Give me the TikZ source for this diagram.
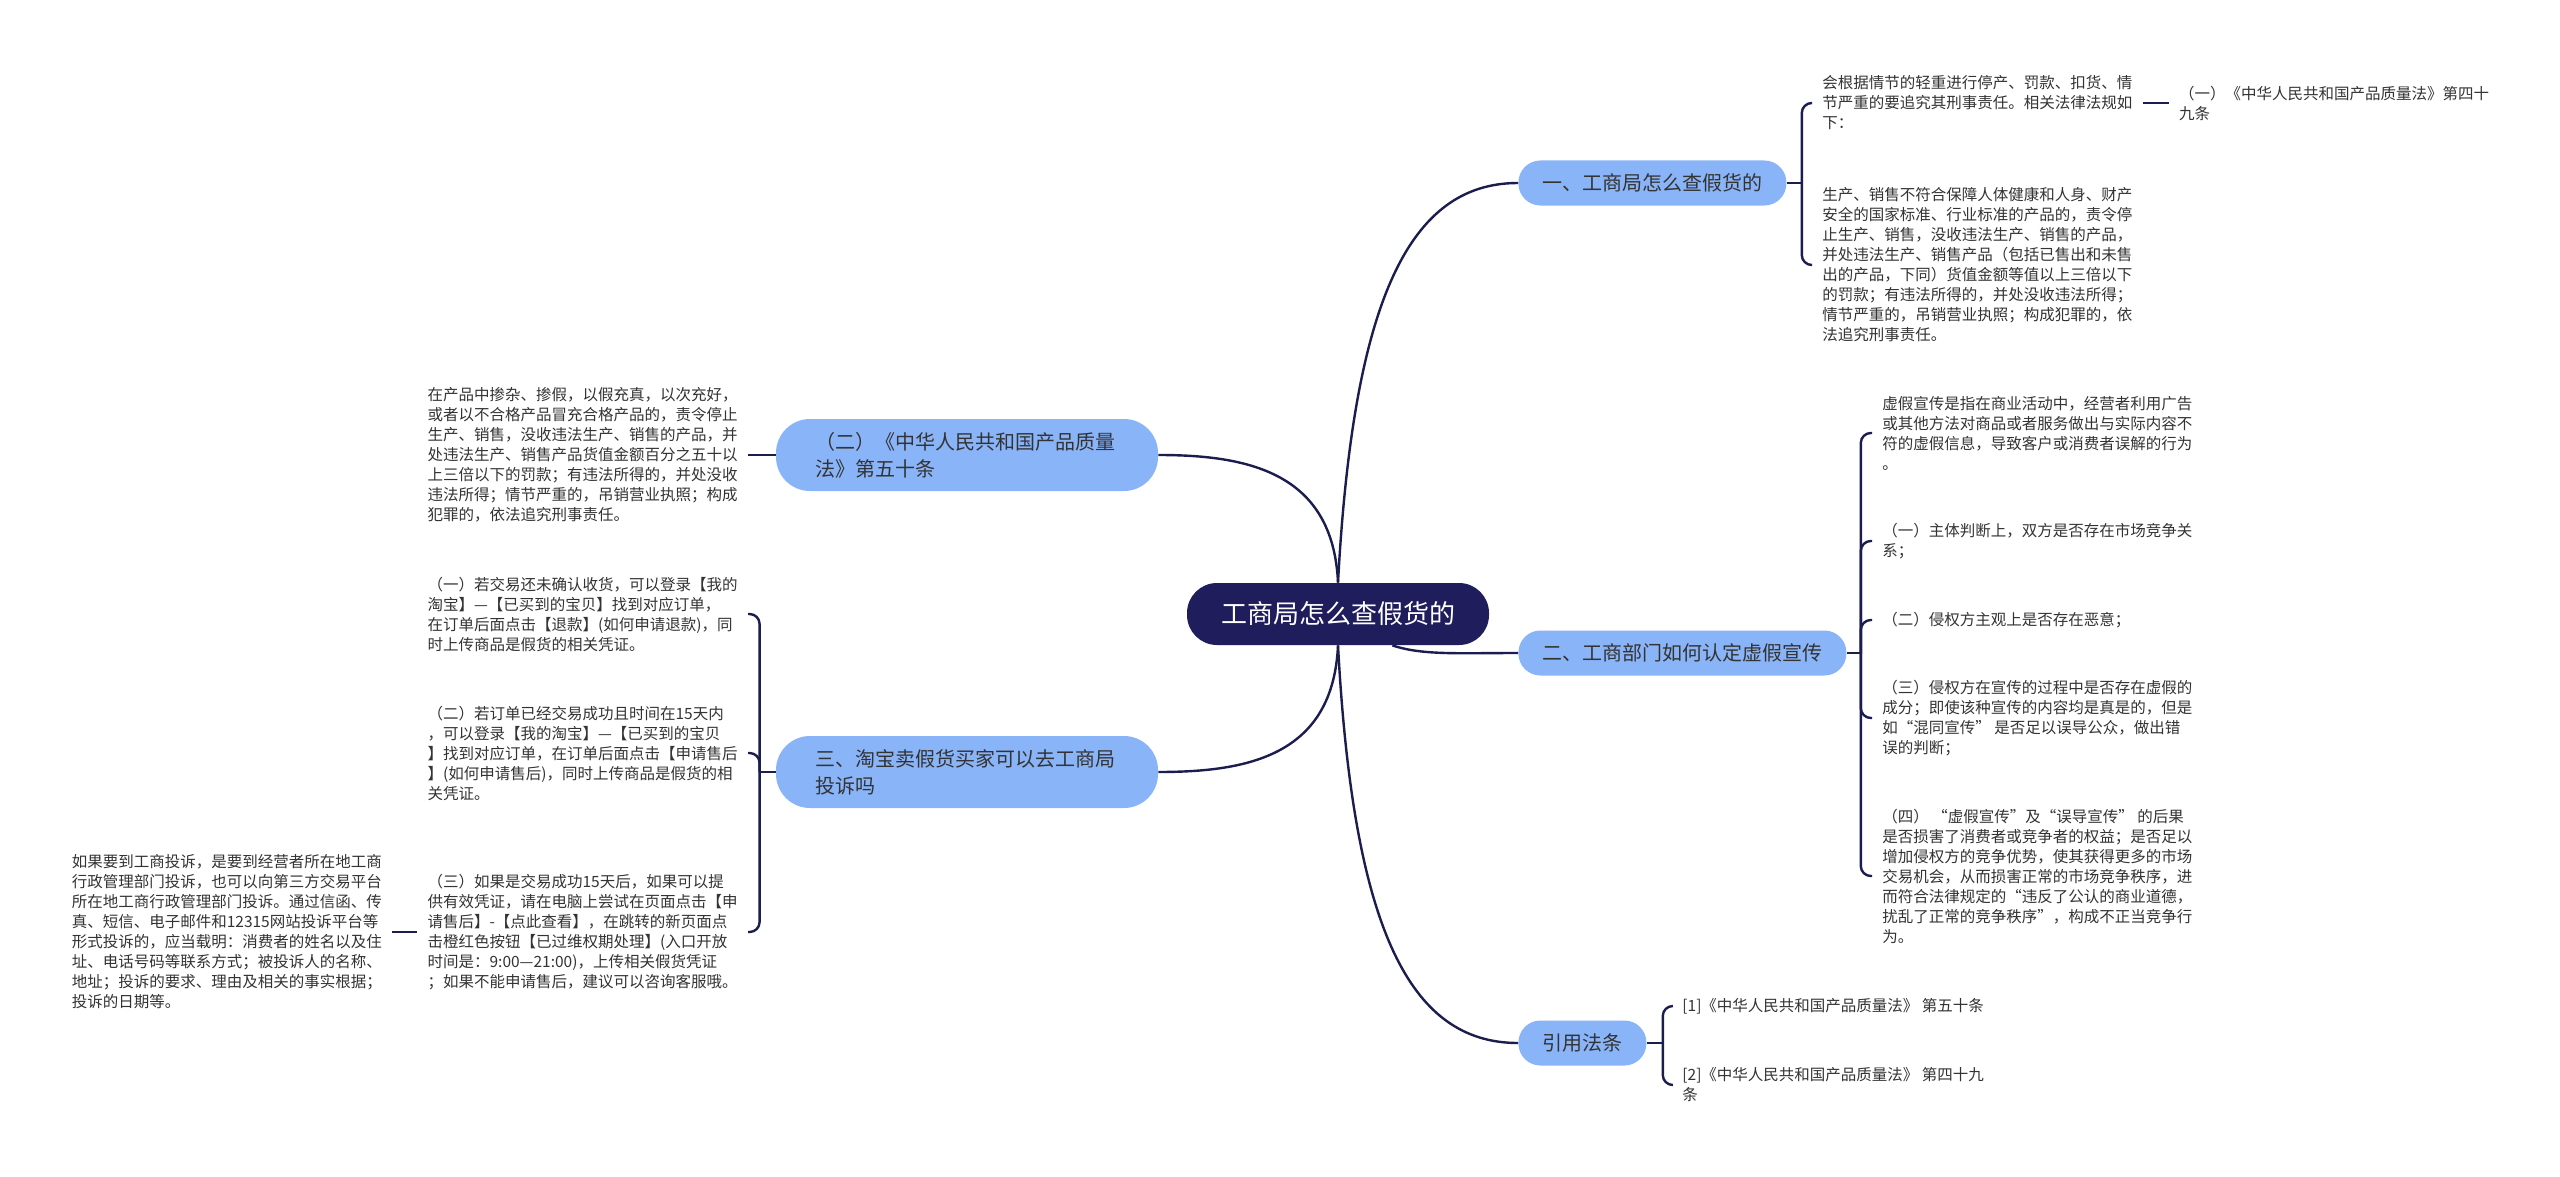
\documentclass[tikz,border=0pt]{standalone}
\usepackage{fontspec}
\setmainfont{Noto Sans CJK SC}
\usepackage{xcolor}
\usepackage{tikz}
\usetikzlibrary{positioning,calc}

\definecolor{navy}{HTML}{1F1D5B}
\definecolor{linenavy}{HTML}{1A1D4E}
\definecolor{skyblue}{HTML}{8AB4F8}
\definecolor{txtgray}{HTML}{333333}

\begin{document}
\begin{tikzpicture}[
  x=0.5pt, y=-0.5pt,
  topic/.style={fill=navy, text=white, rounded corners=15pt, minimum height=31pt, inner xsep=17pt, font=\fontsize{13pt}{16pt}\selectfont},
  branch/.style={fill=skyblue, text=txtgray, rounded corners=11pt, minimum height=22.5pt, inner xsep=12pt, font=\fontsize{10pt}{13.5pt}\selectfont},
  wbranch/.style={branch, rounded corners=17pt, minimum height=36pt, text width=152pt, inner xsep=19.5pt, align=left},
  leaf/.style={align=left, text=txtgray, inner xsep=5pt, inner ysep=0pt, font=\fontsize{7.75pt}{10pt}\selectfont},
  link/.style={draw=linenavy, line width=1.2pt},
  brace/.style={link, rounded corners=5pt}
]
\path[use as bounding box, fill=white] (0,0) rectangle (2560,1177);

% centre and main topics
\node[topic] (root) at (1338,614) {工商局怎么查假货的};
\node[branch, anchor=west] (check) at (1518,183) {一、工商局怎么查假货的};
\node[branch, anchor=west] (ident) at (1518,653) {二、工商部门如何认定虚假宣传};
\node[branch, anchor=west] (cite) at (1518,1043) {引用法条};
\node[wbranch] (law50) at (967,455) {（二）《中华人民共和国产品质量\\法》第五十条};
\node[wbranch] (taobao) at (967,772) {三、淘宝卖假货买家可以去工商局\\投诉吗};

% right side
\node[leaf, anchor=west] (rule) at (1812,103)
  {会根据情节的轻重进行停产、罚款、扣货、情\\节严重的要追究其刑事责任。相关法律法规如\\下：};
\node[leaf, right=13pt of rule] (art49) {（一）《中华人民共和国产品质量法》第四十\\九条};
\node[leaf, anchor=west] (prod) at (1812,265)
  {生产、销售不符合保障人体健康和人身、财产\\安全的国家标准、行业标准的产品的，责令停\\止生产、销售，没收违法生产、销售的产品，\\并处违法生产、销售产品（包括已售出和未售\\出的产品，下同）货值金额等值以上三倍以下\\的罚款；有违法所得的，并处没收违法所得；\\情节严重的，吊销营业执照；构成犯罪的，依\\法追究刑事责任。};

\node[leaf, anchor=west] (def) at (1872,433)
  {虚假宣传是指在商业活动中，经营者利用广告\\或其他方法对商品或者服务做出与实际内容不\\符的虚假信息，导致客户或消费者误解的行为\\。};
\node[leaf, anchor=west] (subj) at (1872,541) {（一）主体判断上，双方是否存在市场竞争关\\系；};
\node[leaf, anchor=west] (mal) at (1872,620) {（二）侵权方主观上是否存在恶意；};
\node[leaf, anchor=west] (fals) at (1872,718)
  {（三）侵权方在宣传的过程中是否存在虚假的\\成分；即使该种宣传的内容均是真是的，但是\\如“混同宣传” 是否足以误导公众，做出错\\误的判断；};
\node[leaf, anchor=west] (harm) at (1872,876)
  {（四） “虚假宣传”及“误导宣传” 的后果\\是否损害了消费者或竞争者的权益；是否足以\\增加侵权方的竞争优势，使其获得更多的市场\\交易机会，从而损害正常的市场竞争秩序，进\\而符合法律规定的“违反了公认的商业道德，\\扰乱了正常的竞争秩序”，构成不正当竞争行\\为。};

\node[leaf, anchor=west] (ref1) at (1672,1006) {[1]《中华人民共和国产品质量法》 第五十条};
\node[leaf, anchor=west] (ref2) at (1672,1085) {[2]《中华人民共和国产品质量法》 第四十九\\条};

% left side
\node[leaf, anchor=east] (adult) at (748,455)
  {在产品中掺杂、掺假，以假充真，以次充好，\\或者以不合格产品冒充合格产品的，责令停止\\生产、销售，没收违法生产、销售的产品，并\\处违法生产、销售产品货值金额百分之五十以\\上三倍以下的罚款；有违法所得的，并处没收\\违法所得；情节严重的，吊销营业执照；构成\\犯罪的，依法追究刑事责任。};

\node[leaf, anchor=east] (refund) at (748,614)
  {（一）若交易还未确认收货，可以登录【我的\\淘宝】—【已买到的宝贝】找到对应订单，\\在订单后面点击【退款】(如何申请退款)，同\\时上传商品是假货的相关凭证。};
\node[leaf, anchor=east] (after) at (748,753)
  {（二）若订单已经交易成功且时间在15天内\\，可以登录【我的淘宝】—【已买到的宝贝\\】找到对应订单，在订单后面点击【申请售后\\】(如何申请售后)，同时上传商品是假货的相\\关凭证。};
\node[leaf, anchor=east] (late) at (748,932)
  {（三）如果是交易成功15天后，如果可以提\\供有效凭证，请在电脑上尝试在页面点击【申\\请售后】-【点此查看】，在跳转的新页面点\\击橙红色按钮【已过维权期处理】(入口开放\\时间是：9:00—21:00)，上传相关假货凭证\\；如果不能申请售后，建议可以咨询客服哦。};
\node[leaf, left=12.5pt of late] (compl)
  {如果要到工商投诉，是要到经营者所在地工商\\行政管理部门投诉，也可以向第三方交易平台\\所在地工商行政管理部门投诉。通过信函、传\\真、短信、电子邮件和12315网站投诉平台等\\形式投诉的，应当载明：消费者的姓名以及住\\址、电话号码等联系方式；被投诉人的名称、\\地址；投诉的要求、理由及相关的事实根据；\\投诉的日期等。};

% junctions of the braces
\coordinate (j1) at ([xshift=7.5pt]check.east);
\coordinate (j2) at ([xshift=7pt]ident.east);
\coordinate (j3) at ([xshift=8pt]cite.east);
\coordinate (j4) at ([xshift=-8pt]taobao.west);

% centre to main topics
\draw[link] (root.north) .. controls +(15,-280) and +(-110,0) .. (check.west);
\draw[link] (root.-30) .. controls +(30,10) and +(-60,0) .. (ident.west);
\draw[link] (root.south) .. controls +(15,280) and +(-110,0) .. (cite.west);
\draw[link] (root.north) .. controls +(-5,-110) and +(90,0) .. (law50.east);
\draw[link] (root.south) .. controls +(-5,110) and +(90,0) .. (taobao.east);

% braces
\draw[link] (check.east) -- (j1);
\draw[brace] (j1) |- (rule.west);
\draw[brace] (j1) |- (prod.west);
\draw[link] (rule.east) -- (art49.west);

\draw[link] (ident.east) -- (j2);
\draw[brace] (j2) |- (def.west);
\draw[brace] (j2) |- (subj.west);
\draw[brace] (j2) |- (mal.west);
\draw[brace] (j2) |- (fals.west);
\draw[brace] (j2) |- (harm.west);

\draw[link] (cite.east) -- (j3);
\draw[brace] (j3) |- (ref1.west);
\draw[brace] (j3) |- (ref2.west);

\draw[link] (law50.west) -- (adult.east);

\draw[link] (taobao.west) -- (j4);
\draw[brace] (j4) |- (refund.east);
\draw[brace] (j4) |- (after.east);
\draw[brace] (j4) |- (late.east);
\draw[link] (late.west) -- (compl.east);
\end{tikzpicture}
\end{document}
